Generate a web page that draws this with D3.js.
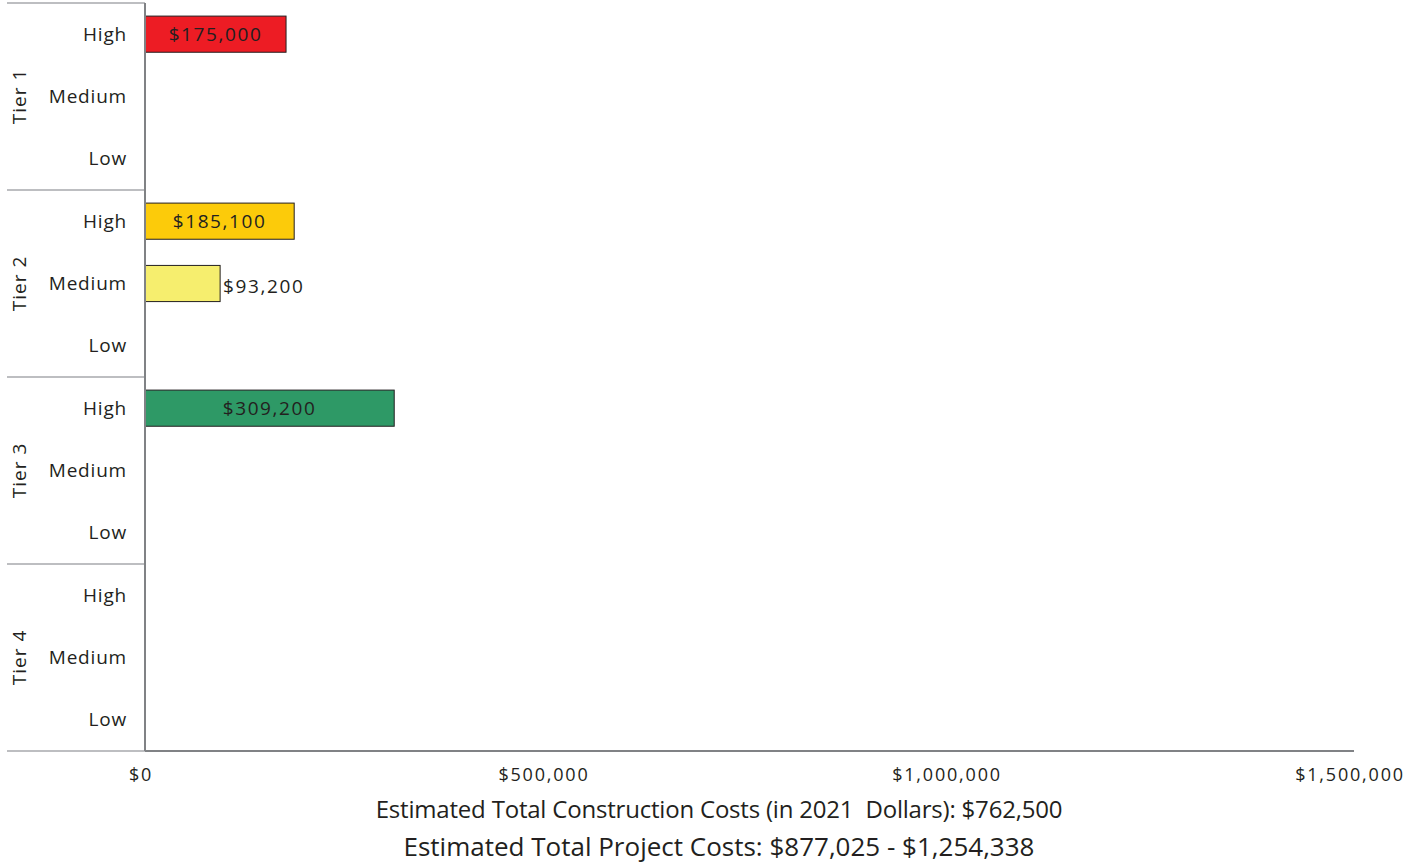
<!DOCTYPE html>
<html>
<head>
<meta charset="utf-8">
<script src="https://cdn.jsdelivr.net/npm/d3@7"></script>
<style>
  body { margin: 0; background: #fff; }
  svg text { font-family: "Open Sans", "Noto Sans", sans-serif; fill: #231f20; white-space: pre; }
</style>
</head>
<body>
<svg id="chart" width="1424" height="865"></svg>
<script>
// chart data
var tiers = ["Tier 1", "Tier 2", "Tier 3", "Tier 4"];
var levels = ["High", "Medium", "Low"];
var costs = [
    [175000, 0, 0],
    [185100, 93200, 0],
    [309200, 0, 0],
    [0, 0, 0]
];
var barColors = [
    ["#ed1c24", null, null],
    ["#fccb0a", "#f6ee6e", null],
    ["#2e9966", null, null],
    [null, null, null]
];
var xTicks = [0, 500000, 1000000, 1500000];
var titleLines = [
    "Estimated Total Construction Costs (in 2021  Dollars): $762,500",
    "Estimated Total Project Costs: $877,025 - $1,254,338"
];

function drawChart() {
    var svg = d3.select("#chart");
    var mLeft = 145, mRight = 1354, mTop = 3, mBottom = 751;

    var x = d3.scaleLinear().domain([0, 1500000]).range([mLeft, mRight]);
    var tierScale = d3.scaleBand().domain(tiers).range([mTop, mBottom]);
    var rowScale = d3.scaleBand().domain(levels).range([0, tierScale.bandwidth()])
        .paddingInner(0.42).paddingOuter(0.21);

    var fmt = d3.format("$,");

    var rows = [];
    tiers.forEach(function(t, i) {
        levels.forEach(function(l, j) {
            rows.push({ tier: t, level: l, value: costs[i][j], color: barColors[i][j] });
        });
    });

    function rowMid(d) { return tierScale(d.tier) + rowScale(d.level) + rowScale.bandwidth() / 2; }

    // tier separators
    var sepY = tiers.map(function(t) { return tierScale(t); }).concat([mBottom]);
    svg.selectAll(".sep")
        .data(sepY)
        .enter().append("line")
        .attr("x1", 7).attr("x2", mLeft)
        .attr("y1", function(d) { return d; })
        .attr("y2", function(d) { return d; })
        .attr("stroke", "#a7a9ac").attr("stroke-width", 1.5);

    // tier labels
    svg.selectAll(".tier")
        .data(tiers)
        .enter().append("text")
        .attr("transform", function(d) {
            return "translate(26," + (tierScale(d) + tierScale.bandwidth() / 2) + ") rotate(-90)";
        })
        .attr("text-anchor", "middle")
        .style("font-size", "19px")
        .style("letter-spacing", "1px")
        .text(function(d) { return d; });

    // level labels
    svg.selectAll(".level")
        .data(rows)
        .enter().append("text")
        .attr("x", 127)
        .attr("y", rowMid)
        .attr("dy", "0.35em")
        .attr("text-anchor", "end")
        .style("font-size", "19px")
        .style("letter-spacing", "0.8px")
        .text(function(d) { return d.level; });

    // bars
    var bars = rows.filter(function(d) { return d.value > 0; });
    svg.selectAll(".bar")
        .data(bars)
        .enter().append("rect")
        .attr("x", x(0))
        .attr("y", function(d) { return tierScale(d.tier) + rowScale(d.level); })
        .attr("width", function(d) { return x(d.value) - x(0); })
        .attr("height", rowScale.bandwidth())
        .attr("fill", function(d) { return d.color; })
        .attr("stroke", "#231f20").attr("stroke-width", 1);

    svg.selectAll(".val")
        .data(bars)
        .enter().append("text")
        .attr("x", function(d) {
            return d.value > 120000 ? (x(0) + x(d.value)) / 2 : x(d.value) + 3;
        })
        .attr("y", function(d) { return d.value > 120000 ? rowMid(d) : rowMid(d) + 3; })
        .attr("dy", "0.35em")
        .attr("text-anchor", function(d) { return d.value > 120000 ? "middle" : "start"; })
        .style("font-size", "19px")
        .style("letter-spacing", "1.6px")
        .text(function(d) { return fmt(d.value); });

    // axis lines
    svg.append("line")
        .attr("x1", mLeft).attr("x2", mLeft).attr("y1", mTop).attr("y2", mBottom)
        .attr("stroke", "#808285").attr("stroke-width", 2);
    svg.append("line")
        .attr("x1", mLeft).attr("x2", mRight).attr("y1", mBottom).attr("y2", mBottom)
        .attr("stroke", "#808285").attr("stroke-width", 2);

    // x tick labels
    svg.selectAll(".tick")
        .data(xTicks)
        .enter().append("text")
        .attr("x", function(d) { return x(d) - 4; })
        .attr("y", 781)
        .attr("text-anchor", "middle")
        .style("font-size", "18px")
        .style("letter-spacing", "1.8px")
        .text(function(d) { return fmt(d); });

    // titles
    svg.selectAll(".title")
        .data(titleLines)
        .enter().append("text")
        .attr("x", 719)
        .attr("y", function(d, i) { return i === 0 ? 818 : 856; })
        .attr("text-anchor", "middle")
        .style("font-size", function(d, i) { return i === 0 ? "24px" : "26px"; })
        .style("letter-spacing", function(d, i) { return i === 0 ? "-0.2px" : "0px"; })
        .text(function(d) { return d; });
}

drawChart();
</script>
</body>
</html>
